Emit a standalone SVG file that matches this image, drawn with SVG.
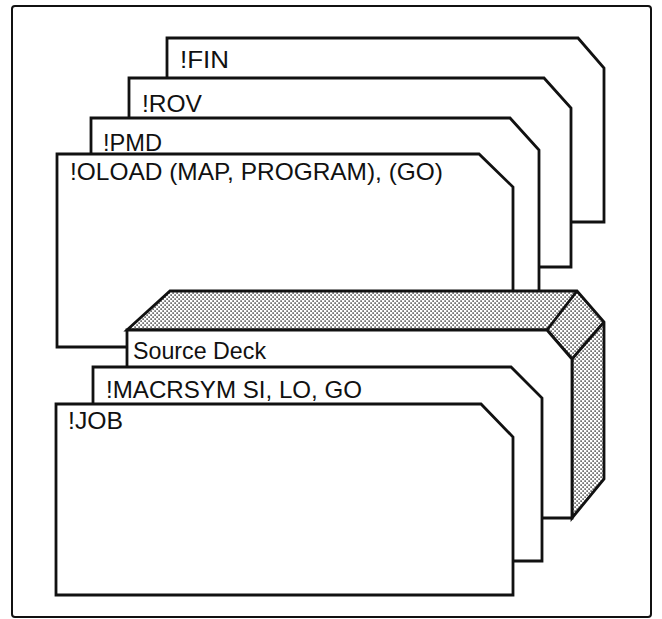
<svg xmlns="http://www.w3.org/2000/svg" width="662" height="619" viewBox="0 0 662 619">
  <defs>
    <pattern id="stipple" x="0" y="0" width="4" height="4" patternUnits="userSpaceOnUse">
      <rect width="4" height="4" fill="#ffffff"/>
      <rect x="0.4" y="0.4" width="1.4" height="1.4" fill="#222"/>
      <rect x="2.4" y="2.4" width="1.4" height="1.4" fill="#222"/>
    </pattern>
    <style>
      .frame { fill: #ffffff; stroke: #111; stroke-width: 2; }
      .card { fill: #ffffff; stroke: #111; stroke-width: 2.8; stroke-linejoin: miter; }
      .band { fill: url(#stipple); stroke: #111; stroke-width: 2.8; stroke-linejoin: miter; }
      .edge { fill: none; stroke: #111; stroke-width: 2.8; }
      .lbl { font-family: "Liberation Sans", Arial, sans-serif; font-size: 24px; fill: #111; }
    </style>
  </defs>

  <rect class="frame" x="12" y="6" width="639" height="611" rx="3"/>

  <g id="card-fin">
    <path class="card" d="M167,38 H578 L604,68 V222 H167 Z"/>
    <text class="lbl" x="180" y="68" textLength="49" lengthAdjust="spacingAndGlyphs">!FIN</text>
  </g>

  <g id="card-rov">
    <path class="card" d="M129,78 H544 L571,108 V267 H129 Z"/>
    <text class="lbl" x="142" y="112" textLength="60" lengthAdjust="spacingAndGlyphs">!ROV</text>
  </g>

  <g id="card-pmd">
    <path class="card" d="M91,118 H510 L539,150 V320 H91 Z"/>
    <text class="lbl" x="103" y="151" textLength="59" lengthAdjust="spacingAndGlyphs">!PMD</text>
  </g>

  <g id="card-oload">
    <path class="card" d="M57,154 H479 L513,187 V347 H57 Z"/>
    <text class="lbl" x="70" y="180" textLength="373" lengthAdjust="spacingAndGlyphs">!OLOAD (MAP, PROGRAM), (GO)</text>
  </g>

  <g id="source-deck">
    <path class="band" d="M127,330 L170,291 H577 L604,322 V479 L572,518 V359 L547,330 Z"/>
    <path class="card" d="M127,330 H547 L572,359 V518 H127 Z"/>
    <path class="edge" d="M547,330 L577,291 M572,359 L604,322"/>
    <text class="lbl" x="133" y="359" textLength="133" lengthAdjust="spacingAndGlyphs">Source Deck</text>
  </g>

  <g id="card-macrsym">
    <path class="card" d="M93,367 H511 L542,398 V561 H93 Z"/>
    <text class="lbl" x="106" y="398" textLength="256" lengthAdjust="spacingAndGlyphs">!MACRSYM SI, LO, GO</text>
  </g>

  <g id="card-job">
    <path class="card" d="M56,404 H481 L513,437 V595 H56 Z"/>
    <text class="lbl" x="68" y="429" textLength="55" lengthAdjust="spacingAndGlyphs">!JOB</text>
  </g>

  <g id="connectors"/>
</svg>
